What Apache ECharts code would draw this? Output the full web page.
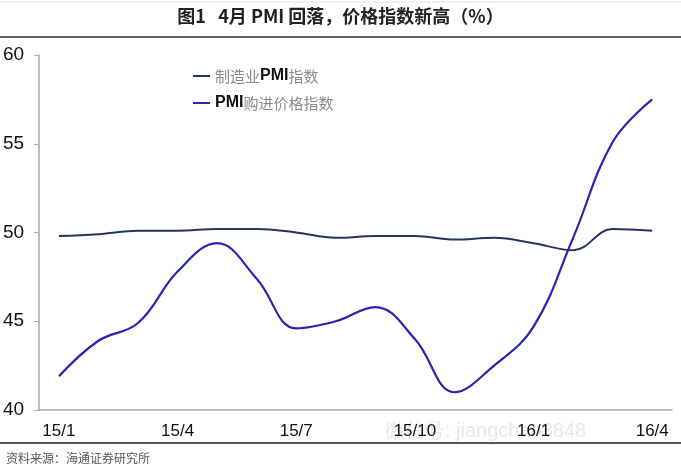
<!DOCTYPE html>
<html>
<head>
<meta charset="utf-8">
<script src="https://cdn.jsdelivr.net/npm/echarts@6/dist/echarts.min.js"></script>
<style>
  html, body { margin: 0; padding: 0; background: #fff; }
  #chart { width: 681px; height: 468px; }
</style>
</head>
<body>
<div id="chart"></div>
<script>
// 月份
var months = ['15/1', '15/2', '15/3', '15/4', '15/5', '15/6', '15/7', '15/8',
  '15/9', '15/10', '15/11', '15/12', '16/1', '16/2', '16/3', '16/4'];
// 制造业PMI指数
var pmi = [49.8, 49.9, 50.1, 50.1, 50.2, 50.2, 50.0, 49.7, 49.8, 49.8, 49.6, 49.7, 49.4, 49.0, 50.2, 50.1];
// PMI购进价格指数
var priceIdx = [41.9, 43.9, 44.9, 47.8, 49.4, 47.4, 44.6, 45.0, 45.8, 44.0, 41.0, 42.5, 44.7, 49.7, 55.1, 57.5];
var yTicks = [40, 45, 50, 55, 60];

var numFont = '"Liberation Sans", Arial, sans-serif';
var cnFont = '"Noto Sans CJK SC", sans-serif';

var myChart = echarts.init(document.getElementById('chart'));
var option = {
  animation: false,
  backgroundColor: '#fff',
  grid: { left: 36, right: 9, top: 55, bottom: 58 },
  legend: {
    orient: 'vertical',
    left: 188,
    top: 63,
    itemGap: 11,
    icon: 'rect',
    itemWidth: 17,
    itemHeight: 2,
    data: ['制造业PMI指数', 'PMI购进价格指数'],
    formatter: function (name) {
      return name.split('PMI').map(function (s) {
        return s ? '{c|' + s + '}' : '';
      }).join('{e|PMI}');
    },
    textStyle: {
      rich: {
        c: { color: '#8a8a8a', fontSize: 15, fontFamily: cnFont },
        e: { color: '#111', fontSize: 16, fontFamily: numFont, fontWeight: 'bold' }
      }
    }
  },
  xAxis: {
    type: 'category',
    data: months,
    boundaryGap: true,
    axisLine: { lineStyle: { color: '#a8a8a8', width: 1.5 } },
    axisTick: { interval: 2, length: 5, lineStyle: { color: '#a8a8a8' } },
    axisLabel: {
      interval: 2,
      margin: 13,
      color: '#111',
      fontSize: 17,
      fontFamily: numFont
    },
    splitLine: { show: false }
  },
  yAxis: {
    type: 'value',
    min: yTicks[0],
    max: yTicks[yTicks.length - 1],
    interval: 5,
    axisLine: { show: true, lineStyle: { color: '#a8a8a8', width: 1.5 } },
    axisTick: { show: true, length: 5, lineStyle: { color: '#a8a8a8' } },
    axisLabel: {
      margin: 15,
      color: '#111',
      fontSize: 19,
      fontFamily: numFont
    },
    splitLine: { show: false }
  },
  series: [
    {
      name: '制造业PMI指数',
      type: 'line',
      data: pmi,
      smooth: 0.4,
      symbol: 'none',
      color: '#25365c',
      lineStyle: { width: 2 }
    },
    {
      name: 'PMI购进价格指数',
      type: 'line',
      data: priceIdx,
      smooth: 0.4,
      symbol: 'none',
      color: '#2b24b3',
      lineStyle: { width: 2.2 }
    }
  ],
  graphic: [
    {
      type: 'line',
      shape: { x1: 0, y1: 2, x2: 681, y2: 2 },
      style: { stroke: '#e2e2e2', lineWidth: 1 }
    },
    {
      type: 'text',
      left: 'center',
      top: 7,
      style: {
        text: '图1   4月 PMI 回落，价格指数新高（%）',
        font: 'bold 18px ' + cnFont,
        fill: '#222'
      }
    },
    {
      type: 'line',
      shape: { x1: 0, y1: 37, x2: 681, y2: 37 },
      style: { stroke: '#666', lineWidth: 2 }
    },
    {
      type: 'text',
      left: 385,
      top: 421,
      style: {
        text: '微信号: jiangchao8848',
        font: '20px ' + numFont,
        fill: 'rgba(150,150,150,0.22)'
      }
    },
    {
      type: 'line',
      shape: { x1: 0, y1: 443, x2: 681, y2: 443 },
      style: { stroke: '#555', lineWidth: 2 }
    },
    {
      type: 'text',
      left: 6,
      top: 452,
      style: {
        text: '资料来源：海通证券研究所',
        font: '12px ' + cnFont,
        fill: '#555'
      }
    }
  ]
};
myChart.setOption(option);
window.onresize = function () {
  myChart.resize();
};
</script>
</body>
</html>
